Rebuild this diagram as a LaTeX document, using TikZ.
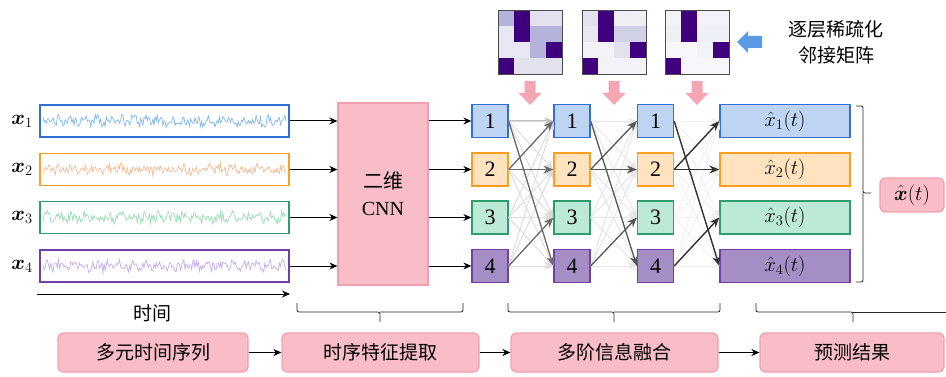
\documentclass[tikz,border=0pt]{standalone}
\usepackage{amsmath}
\usepackage{fontspec}
\setmainfont{Liberation Serif}
\newfontfamily\cjk{Noto Sans CJK SC}
\usetikzlibrary{arrows.meta,calc}
\definecolor{bd1}{HTML}{2F6FD6}\definecolor{fl1}{HTML}{BDD5F3}\definecolor{sg1}{HTML}{7DB8F0}
\definecolor{bd2}{HTML}{FF9D1F}\definecolor{fl2}{HTML}{FFE3BF}\definecolor{sg2}{HTML}{F5BB92}
\definecolor{bd3}{HTML}{2E9C6C}\definecolor{fl3}{HTML}{BCEAD6}\definecolor{sg3}{HTML}{98DDB2}
\definecolor{bd4}{HTML}{7040A8}\definecolor{fl4}{HTML}{A58DC5}\definecolor{sg4}{HTML}{C4ACEE}
\definecolor{pinkF}{HTML}{F8BDC7}\definecolor{pinkB}{HTML}{EFA0AE}
\definecolor{pinkA}{HTML}{F4A6B2}\definecolor{blueA}{HTML}{5A9BE6}
\definecolor{mD}{HTML}{3F007D}\definecolor{mA}{HTML}{B4B4DA}\definecolor{mB}{HTML}{D0D0E6}
\definecolor{mC}{HTML}{E2E2EF}\definecolor{mE}{HTML}{E8E8F2}\definecolor{mF}{HTML}{EFEFF6}
\definecolor{mG}{HTML}{F3F2F8}\definecolor{mH}{HTML}{F7F6FA}
\begin{document}
\begin{tikzpicture}[x=1pt,y=-1pt,
  nbox/.style={draw=bd#1,fill=fl#1,line width=1.3pt,minimum width=36pt,minimum height=33pt,inner sep=0pt,font=\fontsize{22}{24}\selectfont},
  obox/.style={draw=bd#1,fill=fl#1,line width=1.3pt,minimum width=130pt,minimum height=33pt,inner sep=0pt,font=\fontsize{20}{24}\selectfont},
  ibox/.style={draw=bd#1,line width=1.3pt,minimum width=249pt,minimum height=32pt,inner sep=0pt},
  pinkbox/.style={draw=pinkB,fill=pinkF,line width=1.2pt,rounded corners=5pt,inner sep=0pt,font=\cjk\fontsize{19}{22}\selectfont},
  blk/.style={-{Stealth[length=8pt,width=7pt]},line width=1pt,black},
  lg1/.style={-{Stealth[length=9pt,width=7pt]},line width=0.9pt,draw=black!14},
  lg2/.style={-{Stealth[length=9pt,width=7pt]},line width=0.9pt,draw=black!10},
  lg3/.style={-{Stealth[length=9pt,width=7pt]},line width=0.9pt,draw=black!6},
  dk1/.style={-{Stealth[length=10pt,width=8pt]},line width=1.3pt,draw=black!58},
  dk2/.style={-{Stealth[length=10pt,width=8pt]},line width=1.3pt,draw=black!66},
  dk3/.style={-{Stealth[length=10pt,width=8pt]},line width=1.4pt,draw=black!80},
  brc/.style={line width=0.8pt,draw=black!85,rounded corners=2pt}]
\useasboundingbox (0,0) rectangle (946,377);
\pgfmathsetseed{4711}
% input series, nodes
\foreach \i/\yy in {1/121,2/169.5,3/217.5,4/266}{
  \node[ibox=\i] (in\i) at (164.5,\yy) {};
  \draw[sg\i,line width=0.7pt] plot[domain=43:286,samples=220] (\x,{\yy+5*rand+2*sin(\x*29)});
  \node[font=\fontsize{22}{24}\selectfont] (lab\i) at (22,\yy) {$\boldsymbol{x}_{\i}$};
  \node[nbox=\i] (a\i) at (490,\yy) {\i};
  \node[nbox=\i] (b\i) at (572,\yy) {\i};
  \node[nbox=\i] (c\i) at (655.5,\yy) {\i};
  \node[obox=\i] (o\i) at (785,\yy) {$\hat{x}_{\i}(t)$};
}
% CNN
\node[draw=pinkB,fill=pinkF,line width=1.2pt,minimum width=90pt,minimum height=182pt,inner sep=0pt,align=center,font=\fontsize{20}{27}\selectfont] (cnn) at (383,194) {{\cjk 二维}\\CNN};
\foreach \i in {1,...,4}{
  \draw[blk] (in\i.east) -- (in\i.east -| cnn.west);
  \draw[blk] (cnn.east |- a\i.west) -- (a\i.west);
}
% time arrow
\coordinate (t0) at (37,294);
\coordinate (t1) at (290,294);
\draw[blk] (t0) -- (t1);
\node[font=\cjk\fontsize{19}{22}\selectfont] (time) at (152,313) {时间};
% light edges
\foreach \s in {1,...,4}{\foreach \t in {1,...,4}{
  \draw[lg1] (a\s.east) -- (b\t.west);
  \draw[lg2] (b\s.east) -- (c\t.west);
  \draw[lg3] (c\s.east) -- (o\t.west);
}}
\draw[-{Stealth[length=9pt,width=7pt]},line width=1pt,draw=black!25] (a1.east) -- (b1.west);
% dark edges
\foreach \s/\t in {1/4,2/1,2/2,4/3}{
  \draw[dk1] (a\s.east) -- (b\t.west);
  \draw[dk2] (b\s.east) -- (c\t.west);
  \draw[dk3] (c\s.east) -- (o\t.west);
}
% matrices
\foreach \mx/\cols in {498/{mA,mD,mC,mC,mE,mD,mA,mA,mE,mE,mA,mD,mD,mC,mC,mC},
                      582/{mC,mD,mF,mF,mE,mD,mB,mB,mG,mG,mC,mD,mD,mG,mG,mG},
                      665/{mG,mD,mG,mG,mF,mD,mF,mF,mH,mH,mG,mD,mD,mH,mH,mH}}{
  \foreach \cc [count=\k from 0] in \cols {
    \pgfmathtruncatemacro\rr{int(\k/4)}
    \pgfmathtruncatemacro\ccc{mod(\k,4)}
    \fill[\cc] (\mx+\ccc*16,10+\rr*16) rectangle ++(16,16);
  }
  \draw[black!70,line width=0.8pt] (\mx,10) rectangle ++(64,64);
  % pink down arrow
  \fill[pinkA] (\mx+32-5.5,81) -- (\mx+32+5.5,81) -- (\mx+32+5.5,93) -- (\mx+32+11.5,93)
     -- (\mx+32,105) -- (\mx+32-11.5,93) -- (\mx+32-5.5,93) -- cycle;
}
% blue left arrow
\fill[blueA] (762,36) -- (748,36) -- (748,31) -- (737,42) -- (748,53) -- (748,48) -- (762,48) -- cycle;
\node[font=\cjk\fontsize{19}{22}\selectfont,align=center] (sparse) at (836,42) {逐层稀疏化\\[4pt]邻接矩阵};
% right brace and result
\node[pinkbox,minimum width=64pt,minimum height=34pt,font=\fontsize{21}{24}\selectfont] (xt) at (912,195) {$\hat{\boldsymbol{x}}(t)$};
\draw[brc] (856,106) -| (863,193) -- (871,193);
\draw[brc] (863,193) |- (856,282);
% bottom braces
\draw[brc] (297,303) |- (380,312) -- (380,322);
\draw[brc] (380,312) -| (463,303);
\draw[brc] (508,303) |- (614,312) -- (614,322);
\draw[brc] (614,312) -| (720,303);
\draw[brc] (756,303) |- (853,312) -- (853,322);
\draw[brc] (853,312) -- (946,312);
% bottom flow
\node[pinkbox,minimum width=190pt,minimum height=39pt] (s1) at (153,352.5) {多元时间序列};
\node[pinkbox,minimum width=197pt,minimum height=39pt] (s2) at (380.5,352.5) {时序特征提取};
\node[pinkbox,minimum width=207pt,minimum height=39pt] (s3) at (614.5,352.5) {多阶信息融合};
\node[pinkbox,minimum width=184pt,minimum height=39pt] (s4) at (852,352.5) {预测结果};
\draw[blk] (s1) -- (s2);
\draw[blk] (s2) -- (s3);
\draw[blk] (s3) -- (s4);
\end{tikzpicture}
\end{document}
